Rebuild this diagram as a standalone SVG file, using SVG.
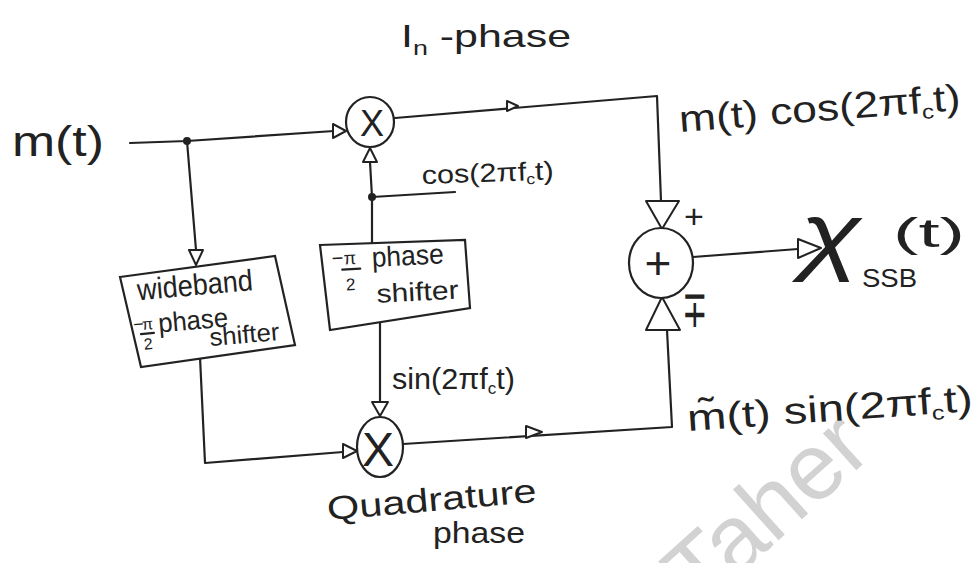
<svg xmlns="http://www.w3.org/2000/svg" width="977" height="563" viewBox="0 0 977 563">
<style>
.w{stroke:#222;stroke-width:2.2;fill:none;stroke-linecap:round;stroke-linejoin:round}
.ah{fill:#fff;stroke:#222;stroke-width:2;stroke-linejoin:round}
.n{fill:#fff;stroke:#222;stroke-width:2.2}
.t{font-family:"Liberation Sans",Arial,sans-serif;fill:#222}
.wm{font-family:"Liberation Sans",Arial,sans-serif;fill:#d2d2d2}
</style>
<rect width="977" height="563" fill="#fff"/>
<text class="wm" x="700" y="611" font-size="94" transform="rotate(-42 700 611)">Taher</text>

<g id="connectors">
  <path class="w" d="M130,143 L187,141 L334,131"/>
  <circle cx="187" cy="141" r="4" fill="#222"/>
  <polygon class="ah" points="346,131 333,124 333,138"/>
  <path class="w" d="M187,141 L196,250"/>
  <polygon class="ah" points="196,265 189,250 203,250"/>
  <path class="w" d="M372,243 L372,197 L370,162"/>
  <circle cx="372" cy="197" r="4" fill="#222"/>
  <path class="w" d="M372,197 L455,192"/>
  <polygon class="ah" points="370,148 363,162 377,162"/>
  <path class="w" d="M395,118 L657,96 L661,201"/>
  <polygon class="ah" points="518,106 507,101 507,111"/>
  <polygon class="ah" points="662,229 646,201 679,201"/>
  <path class="w" d="M693,257 L798,249"/>
  <polygon class="ah" points="821,248 798,239 798,258"/>
  <path class="w" d="M380,318 L380,402"/>
  <polygon class="ah" points="380,416 372,402 388,402"/>
  <path class="w" d="M200,357 L205,463 L343,452"/>
  <polygon class="ah" points="357,451 343,444 343,458"/>
  <path class="w" d="M403,444 L672,427 L667,330"/>
  <polygon class="ah" points="542,432 526,426 526,438"/>
  <polygon class="ah" points="662,297 646,330 680,330"/>
</g>

<g id="input">
  <text class="t" x="12" y="156" font-size="42" textLength="92" lengthAdjust="spacingAndGlyphs">m(t)</text>
</g>

<g id="multiplier-top">
  <ellipse class="n" cx="370" cy="122" rx="24" ry="25"/>
  <text class="t" x="372" y="136" font-size="36" text-anchor="middle">X</text>
</g>

<g id="multiplier-bottom">
  <ellipse class="n" cx="380" cy="447" rx="23" ry="30"/>
  <text class="t" x="378" y="466" font-size="48" text-anchor="middle">X</text>
</g>

<g id="summer">
  <ellipse class="n" cx="661" cy="263" rx="32" ry="35"/>
  <text class="t" x="658" y="279" font-size="46" text-anchor="middle">+</text>
</g>

<g id="wideband-shifter">
  <polygon class="n" points="120,277 275,256 295,345 141,367"/>
  <g transform="rotate(-5 140 300)">
    <text class="t" x="138" y="300" font-size="30" textLength="116" lengthAdjust="spacingAndGlyphs">wideband</text>
    <text class="t" x="131" y="330" font-size="18">−</text>
    <text class="t" x="140" y="330" font-size="16">π</text>
    <line class="w" x1="138" y1="334" x2="151" y2="334" stroke-width="1.6"/>
    <text class="t" x="140" y="350" font-size="16">2</text>
    <text class="t" x="156" y="334" font-size="27" textLength="70" lengthAdjust="spacingAndGlyphs">phase</text>
    <text class="t" x="206" y="352" font-size="25" textLength="70" lengthAdjust="spacingAndGlyphs">shifter</text>
  </g>
</g>

<g id="carrier-shifter">
  <polygon class="n" points="320,245 465,240 470,308 330,330"/>
  <g transform="rotate(-3 335 265)">
    <text class="t" x="332" y="265" font-size="20">−</text>
    <text class="t" x="344" y="265" font-size="18">π</text>
    <line class="w" x1="342" y1="270" x2="360" y2="270" stroke-width="1.6"/>
    <text class="t" x="345" y="291" font-size="17">2</text>
    <text class="t" x="372" y="269" font-size="28" textLength="72" lengthAdjust="spacingAndGlyphs">phase</text>
    <text class="t" x="375" y="305" font-size="26" textLength="82" lengthAdjust="spacingAndGlyphs">shifter</text>
  </g>
</g>

<g id="label-inphase">
  <text class="t" x="401" y="47" font-size="32" textLength="170" lengthAdjust="spacingAndGlyphs">I<tspan font-size="20" dy="8">n</tspan><tspan dy="-8"> -phase</tspan></text>
</g>

<g id="label-cos">
  <text class="t" x="422" y="184" font-size="26" textLength="132" lengthAdjust="spacingAndGlyphs" transform="rotate(-2 422 184)">cos(2πf<tspan font-size="15" dy="4">c</tspan><tspan dy="-4">t)</tspan></text>
</g>

<g id="label-sin">
  <text class="t" x="392" y="389" font-size="29" textLength="123" lengthAdjust="spacingAndGlyphs">sin(2πf<tspan font-size="16" dy="5">c</tspan><tspan dy="-5">t)</tspan></text>
</g>

<g id="label-upper">
  <text class="t" x="680" y="132" font-size="37" textLength="282" lengthAdjust="spacingAndGlyphs" transform="rotate(-4.5 680 132)">m(t) cos(2πf<tspan font-size="20" dy="6">c</tspan><tspan dy="-6">t)</tspan></text>
</g>

<g id="label-lower">
  <text class="t" x="688" y="431" font-size="37" textLength="286" lengthAdjust="spacingAndGlyphs" transform="rotate(-4 688 431)">m̃(t) sin(2πf<tspan font-size="20" dy="6">c</tspan><tspan dy="-6">t)</tspan></text>
</g>

<g id="signs">
  <text class="t" x="684" y="228" font-size="34">+</text>
  <text class="t" font-size="36" transform="translate(682,327) scale(0.85,1.45)">∓</text>
</g>

<g id="output">
  <text class="t" font-size="80" font-family="DejaVu Serif" font-style="italic" transform="translate(800,264) scale(1.4,1.1)">χ</text>
  <text class="t" x="862" y="287" font-size="25" textLength="55" lengthAdjust="spacingAndGlyphs">SSB</text>
  <text class="t" x="893" y="247" font-size="40" textLength="72" lengthAdjust="spacingAndGlyphs">(t)</text>
</g>

<g id="label-quadrature">
  <text class="t" x="328" y="520" font-size="33" textLength="210" lengthAdjust="spacingAndGlyphs" transform="rotate(-5 328 520)">Quadrature</text>
  <text class="t" x="433" y="543" font-size="30" textLength="92" lengthAdjust="spacingAndGlyphs">phase</text>
</g>
</svg>
